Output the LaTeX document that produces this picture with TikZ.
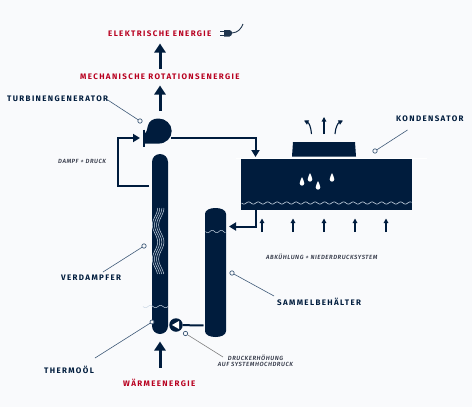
\documentclass[tikz,border=0pt]{standalone}
\usepackage{fontspec}
\setmainfont{Fira Sans}
\newfontfamily\lblfont[LetterSpace=17,Scale=1]{Fira Sans Bold}
\newfontfamily\notefont[LetterSpace=9,Scale=1]{Fira Sans Medium Italic}
\usetikzlibrary{arrows.meta}
\definecolor{navy}{HTML}{001C3D}
\definecolor{redc}{HTML}{B8001F}
\definecolor{bg}{HTML}{F9FAFC}
\definecolor{leader}{HTML}{3F5A78}
\definecolor{wavec}{HTML}{C9D6E4}
\definecolor{notec}{HTML}{2A2F3F}
\tikzset{
  lbl/.style={font=\lblfont\fontsize{8}{9}\selectfont,text=navy,inner sep=0pt},
  energy/.style={font=\lblfont\fontsize{8}{9}\selectfont,text=redc,inner sep=0pt},
  note/.style={font=\notefont\fontsize{6}{7}\selectfont,text=notec,inner sep=0pt,align=center},
  bigarrow/.style={draw=navy,line width=3pt,-{Triangle[length=9pt,width=11pt]}},
  pipe/.style={draw=navy,line width=2pt},
  pipearrow/.style={pipe,-{Triangle[length=7pt,width=8pt]}},
  smallarrow/.style={draw=navy,line width=1.1pt,-{Triangle[length=4.5pt,width=4.5pt]}},
  leaderline/.style={draw=leader,line width=0.6pt},
  dotc/.style={circle,draw=leader,fill=bg,line width=0.7pt,minimum size=4.4pt,inner sep=0pt},
  vessel/.style={fill=navy,inner sep=0pt},
  wave/.style={draw=wavec,line width=0.5pt},
  x=1pt,y=-1pt
}
\begin{document}
\begin{tikzpicture}
\useasboundingbox[fill=bg] (0,0) rectangle (472,407);

% labels
\node[energy,anchor=west] (el) at (108,34) {ELEKTRISCHE ENERGIE};
\node[energy,anchor=west] (mech) at (80,77) {MECHANISCHE ROTATIONSENERGIE};
\node[energy,anchor=west] (waerme) at (123,383) {WÄRMEENERGIE};
\node[lbl,anchor=west] (turbl) at (7,99) {TURBINENGENERATOR};
\node[lbl,anchor=west] (kondl) at (396,119) {KONDENSATOR};
\node[lbl,anchor=west] (verdl) at (61,278) {VERDAMPFER};
\node[lbl,anchor=west] (samml) at (277,302) {SAMMELBEHÄLTER};
\node[lbl,anchor=west] (therml) at (44,370) {THERMOÖL};
\node[note,anchor=west] (dampf) at (58,161) {DAMPF + DRUCK};
\node[note,anchor=west] (abk) at (266,257) {ABKÜHLUNG + NIEDERDRUCKSYSTEM};
\node[note,anchor=north] (druck) at (255.5,354.5) {DRUCKERHÖHUNG\\[-0.5pt]AUF SYSTEMHOCHDRUCK};

% vessels
\node[vessel,rounded corners=8pt,minimum width=16pt,minimum height=180pt] (evap) at (160,244) {};
\fill[navy] (205,214) .. controls (205,210) and (210,208) .. (215.5,208) .. controls (221,208) and (226,210) .. (226,214)
  -- (226,331) .. controls (226,335) and (221,337) .. (215.5,337) .. controls (210,337) and (205,335) .. (205,331) -- cycle;
\node[vessel,minimum width=171pt,minimum height=51pt] (kond) at (326.5,184.5) {};
\draw[white,line width=0.8pt] (236,158) -- (427,158);
\fill[navy] (293,142) -- (355,142) -- (356,156.5) -- (292,156.5) -- cycle;

% turbine
\fill[navy] (144,143.6) -- (158.5,143.6)
  .. controls (166,143.6) and (171.7,138) .. (171.7,131)
  .. controls (171.7,124) and (165.5,118.5) .. (158.5,118.5)
  .. controls (153,118.5) and (149,121) .. (147.8,126)
  .. controls (147.2,130) and (146,133) .. (144,135) -- cycle;
\draw[navy,line width=1.4pt] (144,129.5) -- (144,147);
\coordinate (turbin) at (140,138);

% drops
\foreach \dx/\dy in {302/182,310/178,318/186,332/178}{
  \fill[white] (\dx,\dy-5) .. controls (\dx+.8,\dy-2.5) and (\dx+2.3,\dy-1) .. (\dx+2.3,\dy+1.2)
    .. controls (\dx+2.3,\dy+4.4) and (\dx-2.3,\dy+4.4) .. (\dx-2.3,\dy+1.2)
    .. controls (\dx-2.3,\dy-1) and (\dx-.8,\dy-2.5) .. (\dx,\dy-5) -- cycle;
}

% waves
\draw[wave,line width=0.6pt,domain=0:170,samples=240,smooth] plot ({241.5+\x},{203+1.1*sin(\x/9.5*360)});
\draw[wave,domain=0:25,samples=60,smooth] plot ({143+\x},{306.5+1.2*sin(\x/10*360)});
\draw[wave,domain=0:20,samples=50,smooth] plot ({205.5+\x},{231.5+1.2*sin(\x/9*360)});
\foreach \o in {0,2.1,4.2,6.3}{
  \draw[wave,domain=0:66,samples=80,smooth] plot ({155+\o+2.6*sin(\x/34*360+90)},{208+\x});
}

% energy arrows
\coordinate (a1s) at (160,111); \coordinate (a1e) at (160,85.5);
\coordinate (a2s) at (160,69); \coordinate (a2e) at (160,43.5);
\coordinate (a3s) at (160,367.5); \coordinate (a3e) at (160,341.5);
\draw[bigarrow] (a1s) -- (a1e);
\draw[bigarrow] (a2s) -- (a2e);
\draw[bigarrow] (a3s) -- (a3e);

% pipes
\coordinate (t1) at (171,138); \coordinate (t2) at (255.5,138); \coordinate (t3) at (255.5,157);
\draw[pipearrow] (t1) -- (t2) -- (t3);
\coordinate (d1) at (149,186); \coordinate (d2) at (118,186); \coordinate (d3) at (118,138);
\draw[pipearrow] (d1) -- (d2) -- (d3) -- (turbin);
\coordinate (c1) at (255.5,210); \coordinate (c2) at (255.5,226.5); \coordinate (c3) at (229,226.5);
\draw[pipearrow] (c1) -- (c2) -- (c3);

% pump
\node[circle,fill=navy,minimum size=13.5pt,inner sep=0pt] (pump) at (176,325) {};
\fill[white] (172,325) -- (179,321) -- (179,329) -- cycle;
\coordinate (s1) at (203.5,325.5);
\draw[pipe] (s1) -- (pump);

% cooling arrows
\foreach \i/\px in {1/262,2/293,3/324,4/355,5/386}{
  \coordinate (u\i a) at (\px,232); \coordinate (u\i b) at (\px,218.5);
  \draw[smallarrow] (u\i a) -- (u\i b);
}
\coordinate (h1) at (324,134); \coordinate (h2) at (324,117);
\draw[smallarrow] (h1) -- (h2);
\coordinate (hl1) at (311.5,134); \coordinate (hl2) at (304,120.5);
\draw[smallarrow] (hl1) .. controls (311,127) and (309,123) .. (hl2);
\coordinate (hr1) at (335,134); \coordinate (hr2) at (343,120.5);
\draw[smallarrow] (hr1) .. controls (335.5,127) and (338,123) .. (hr2);

% leader lines
\node[dotc] (dt) at (140,121) {};
\node[dotc] (dk) at (375,151) {};
\node[dotc] (dv) at (144,246) {};
\node[dotc,minimum size=4pt] (dth) at (152,322) {};
\node[dotc] (ds) at (232,273) {};
\node[dotc] (dd) at (185.5,333.5) {};
\coordinate (lt) at (107,99.5);
\coordinate (lk) at (407.5,130);
\coordinate (lv) at (103,272);
\coordinate (lth) at (95,358);
\coordinate (ls) at (274,296);
\coordinate (ld) at (223,357);
\draw[leaderline] (lt) -- (dt);
\draw[leaderline] (lk) -- (dk);
\draw[leaderline] (lv) -- (dv);
\draw[leaderline] (lth) -- (dth);
\draw[leaderline] (ls) -- (ds);
\draw[leaderline,draw=gray] (ld) -- (dd);

% plug
\coordinate (pl1) at (232,33); \coordinate (pl2) at (243,24);
\draw[navy!70!gray,line width=0.9pt] (pl1) .. controls (238,32.5) and (241,29) .. (pl2);
\fill[navy!75!gray] (224,30) -- (229.5,30) .. controls (231.5,30.5) and (232,31.5) .. (232,33) .. controls (232,34.5) and (231.5,36) .. (229.5,36.5) -- (224,36.5) -- cycle;
\draw[navy!75!gray,line width=0.9pt] (220,31.5) -- (224,31.5) (220,35) -- (224,35);
\end{tikzpicture}
\end{document}
